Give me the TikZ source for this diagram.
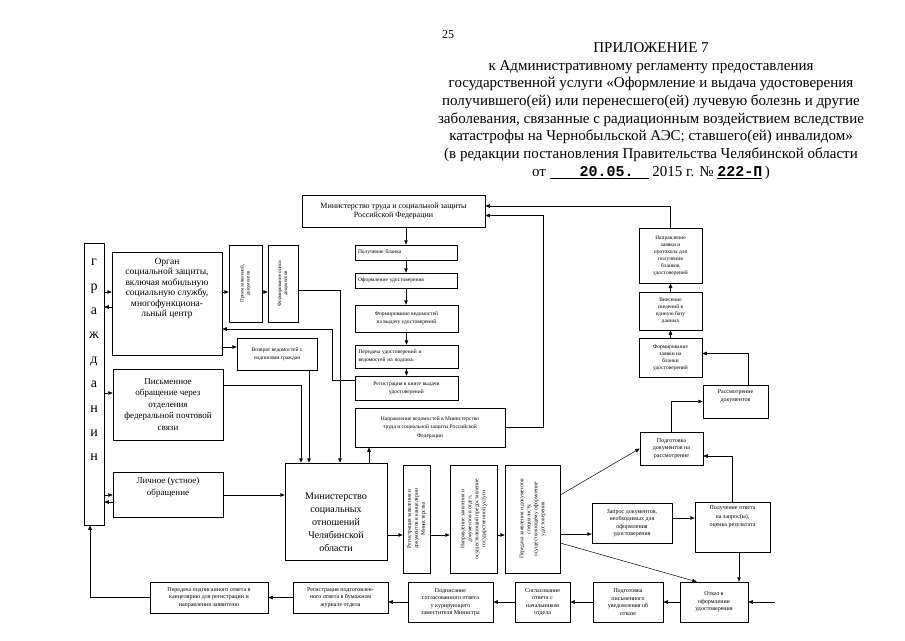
\documentclass[tikz,border=0pt]{standalone}
\usepackage{fontspec}
\usepackage{graphicx}
\setmainfont{Liberation Serif}
\setmonofont{Liberation Mono}
\usetikzlibrary{arrows.meta}
\newcommand{\fsz}[2]{\fontsize{#1}{#2}\selectfont}
\newcommand{\vtxt}[1]{\rotatebox{90}{\begin{tabular}{@{}c@{}}#1\end{tabular}}}
\tikzset{
  blk/.style={draw, line width=0.5pt, align=center, inner sep=1pt},
  arr/.style={line width=0.5pt, -{Triangle[length=4.5pt,width=3.5pt]}},
}
\begin{document}
\begin{tikzpicture}[x=1pt, y=-1pt]
\useasboundingbox (0,0) rectangle (905,640);
% header
\node (pnum) at (448,35) {\fsz{12}{14}25};
\node[align=center, font=\fsz{15}{17.7}] (title) at (651,111) {ПРИЛОЖЕНИЕ 7\\
к Административному регламенту предоставления\\
государственной услуги «Оформление и выдача удостоверения\\
получившего(ей) или перенесшего(ей) лучевую болезнь и другие\\
заболевания, связанные с радиационным воздействием вследствие\\
катастрофы на Чернобыльской АЭС; ставшего(ей) инвалидом»\\
(в редакции постановления Правительства Челябинской области\\
от \underline{\hspace{2em}\textbf{\ttfamily 20.05.}\hspace{1em}} 2015 г. № \underline{\textbf{\ttfamily 222-П}}\,)};

% federal ministry and its column
\node[blk, minimum width=183, minimum height=32, font=\fsz{8}{9}] (mintrud) at (393.5,211) {Министерство труда и социальной защиты\\Российской Федерации};
\node[blk, minimum width=102, minimum height=15, text width=96, align=left, font=\fsz{5.5}{8}] (blank) at (406,252.5) {Получение бланка};
\node[blk, minimum width=102, minimum height=15, text width=96, align=left, font=\fsz{5.5}{8}] (oform) at (406,280.5) {Оформление удостоверения};
\node[blk, minimum width=103, minimum height=27, font=\fsz{5.5}{8}] (vedom) at (406.5,318.5) {Формирование ведомостей\\на выдачу удостоверений};
\node[blk, minimum width=103, minimum height=23, text width=96, align=left, font=\fsz{5.5}{8}] (peredud) at (406.5,356.5) {Передача удостоверений и\\ведомостей на подпись};
\node[blk, minimum width=103, minimum height=24, font=\fsz{5.5}{8}] (regkn) at (406.5,388) {Регистрация в книге выдачи\\удостоверений};
\node[blk, minimum width=150, minimum height=39, font=\fsz{5.5}{8.5}] (naprved) at (430,427.5) {Направление ведомостей в Министерство\\труда и социальной защиты Российской\\Федерации};

% citizens and the ways in
\node[blk, minimum width=20, minimum height=282, font=\fsz{14}{24.4}, text depth=48pt] (grazh) at (94,384) {г\\р\\а\\ж\\д\\а\\н\\и\\н};
\node[blk, minimum width=110, minimum height=103, font=\fsz{9.5}{10.5}, text depth=32pt] (organ) at (167,303.5) {Орган\\социальной защиты,\\включая мобильную\\социальную службу,\\многофункциона-\\льный центр};
\node[blk, minimum width=33, minimum height=77, font=\fsz{5}{6}] (priem) at (245.5,283.5) {\vtxt{Прием заявлений,\\документов}};
\node[blk, minimum width=30, minimum height=77, font=\fsz{5}{6}] (opis) at (283,283.5) {\vtxt{Формирование описи\\документов}};
\node[blk, minimum width=80, minimum height=32, font=\fsz{5.5}{8}] (vozvrat) at (277,354) {Возврат ведомостей с\\подписями граждан};
\node[blk, minimum width=110, minimum height=71, font=\fsz{9}{11.5}] (pismo) at (168,404.5) {Письменное\\обращение через\\отделения\\федеральной почтовой\\связи};
\node[blk, minimum width=110, minimum height=45, font=\fsz{9}{11.5}, text depth=16pt] (lichno) at (168,494.5) {Личное (устное)\\обращение};
\node[blk, minimum width=102, minimum height=97, font=\fsz{10}{13}, text height=80pt] (minsoc) at (336,511.5) {Министерство\\социальных\\отношений\\Челябинской\\области};

% ministry steps
\node[blk, minimum width=27, minimum height=108, font=\fsz{5.5}{7}] (reg) at (416.5,519) {\vtxt{Регистрация заявления и\\документов в канцелярии\\Министерства}};
\node[blk, minimum width=47, minimum height=108, font=\fsz{5.5}{7}] (napr) at (473.5,519) {\vtxt{Направление заявления и\\документов в отдел,\\осуществляющий предоставление\\государственной услуги}};
\node[blk, minimum width=55, minimum height=108, font=\fsz{5.5}{7}] (pered) at (532.5,519) {\vtxt{Передача заявления и документов\\специалисту,\\осуществляющему оформление\\удостоверения}};

% right part
\node[blk, minimum width=63, minimum height=55, font=\fsz{5.5}{7}] (naprzayav) at (670.5,255.5) {Направление\\заявки и\\протокола для\\получения\\бланков\\удостоверений};
\node[blk, minimum width=63, minimum height=38, font=\fsz{5.5}{7}] (vnes) at (670.5,311) {Внесение\\сведений в\\единую базу\\данных};
\node[blk, minimum width=63, minimum height=39, font=\fsz{5.5}{7}] (formzayav) at (670.5,357.5) {Формирование\\заявки на\\бланки\\удостоверений};
\node[blk, minimum width=65, minimum height=33, font=\fsz{6}{7.5}, text depth=12pt] (rassm) at (735.5,401.5) {Рассмотрение\\документов};
\node[blk, minimum width=63, minimum height=33, font=\fsz{6}{7.5}] (podgdoc) at (671.5,448.5) {Подготовка\\документов на\\рассмотрение};
\node[blk, minimum width=80, minimum height=40, font=\fsz{6}{7.5}] (zapros) at (632,523) {Запрос документов,\\необходимых для\\оформления\\удостоверения};
\node[blk, minimum width=75, minimum height=50, font=\fsz{6}{8.5}, text depth=21pt] (otvet) at (732.5,527) {Получение ответа\\на запрос(ы),\\оценка результата};

% bottom row
\node[blk, minimum width=68, minimum height=40, font=\fsz{6}{7.5}] (otkaz) at (714,602) {Отказ в\\оформлении\\удостоверения};
\node[blk, minimum width=70, minimum height=40, font=\fsz{6}{7.5}] (uved) at (628,602) {Подготовка\\письменного\\уведомления об\\отказе};
\node[blk, minimum width=55, minimum height=40, font=\fsz{6}{7.5}] (soglas) at (542.5,602) {Согласование\\ответа с\\начальником\\отдела};
\node[blk, minimum width=85, minimum height=40, font=\fsz{6}{7.5}] (podpis) at (450.5,602) {Подписание\\согласованного ответа\\у курирующего\\заместителя Министра};
\node[blk, minimum width=95, minimum height=31, font=\fsz{6}{7.5}] (regotv) at (340.5,597.5) {Регистрация подготовлен-\\ного ответа в бумажном\\журнале отдела};
\node[blk, minimum width=118, minimum height=31, font=\fsz{6}{7.5}] (peredotv) at (209,597.5) {Передача подписанного ответа в\\канцелярию для регистрации и\\направления заявителю};
\coordinate (otkazin) at (775,602);

% connectors
\draw[arr] (mintrud.south -| blank.north) -- (blank.north);
\draw[arr] (blank.south) -- (oform.north);
\draw[arr] (oform.south) -- (oform.south |- vedom.north);
\draw[arr] (vedom.south) -- (peredud.north);
\draw[arr] (peredud.south) -- (regkn.north);
\draw[arr] (naprved.east) -- (543,427.5) |- ([yshift=-4.5pt]mintrud.east);
\draw[arr] (naprzayav.north) |- ([yshift=5pt]mintrud.east);
\draw[arr] (vnes.north) -- (naprzayav.south);
\draw[arr] (formzayav.north) -- (vnes.south);
\draw[arr] ([xshift=12.5pt]rassm.north) |- ([yshift=4pt]formzayav.east);
\draw[arr] (podgdoc.north) |- (rassm.west);
\draw[arr] (pered.east |- 0,495) -- (podgdoc.west);
\draw[arr] (pered.east |- 0,534) -- (zapros.west |- 0,534);
\draw[arr] (pered.east |- 0,543) -- ([xshift=17pt]otkaz.north west);
\draw[arr] (zapros.east |- 0,518) -- (otvet.west |- 0,518);
\draw[arr] (otvet.north) |- ([yshift=-7.5pt]podgdoc.east);
\draw[arr] ([xshift=6.5pt]otvet.south) -- ([xshift=6.5pt]otvet.south |- otkaz.north);
\draw[arr] (otkazin) -- (otkaz.east);
\draw[arr] (otkaz) -- (uved);
\draw[arr] (uved) -- (soglas);
\draw[arr] (soglas) -- (podpis);
\draw[arr] (podpis.west) -- (podpis.west -| regotv.east);
\draw[arr] (regotv) -- (peredotv);
\draw[arr] (peredotv.west) -| ([xshift=-4pt]grazh.south);
\draw[arr] (grazh.east |- 0,292) -- (organ.west |- 0,292);
\draw[arr] (organ.west |- 0,307) -- (grazh.east |- 0,307);
\draw[arr] (grazh.east |- 0,393) -- (pismo.west |- 0,393);
\draw[arr] (grazh.east |- 0,495) -- (lichno.west |- 0,495);
\draw[arr] (lichno.west |- 0,502) -- (grazh.east |- 0,502);
\draw[arr] (organ.east |- 0,292) -- (priem.west |- 0,292);
\draw[arr] (priem.east |- 0,292) -- (opis.west |- 0,292);
\draw[arr] (opis.east |- 0,290) -| ([xshift=4pt]minsoc.north);
\draw[arr] (organ.east |- 0,347) -- (vozvrat.west |- 0,347);
\draw[arr] ([xshift=32pt]vozvrat.south) -- ([xshift=32pt]vozvrat.south |- minsoc.north);
\draw[arr] (pismo.east |- 0,385) -| ([xshift=-35pt]minsoc.north);
\draw[arr] (regkn.west |- 0,380) -- (332,380) |- (organ.east |- 0,329);
\draw[arr] ([xshift=33pt]minsoc.north) -- ([xshift=33pt]minsoc.north |- naprved.south);
\draw[arr] (lichno.east |- 0,495) -- (minsoc.west |- 0,495);
\draw[arr] (minsoc.east |- 0,535) -- (reg.west |- 0,535);
\draw[arr] (reg.east |- 0,535) -- (napr.west |- 0,535);
\draw[arr] (napr.east |- 0,535) -- (pered.west |- 0,535);
\end{tikzpicture}
\end{document}
